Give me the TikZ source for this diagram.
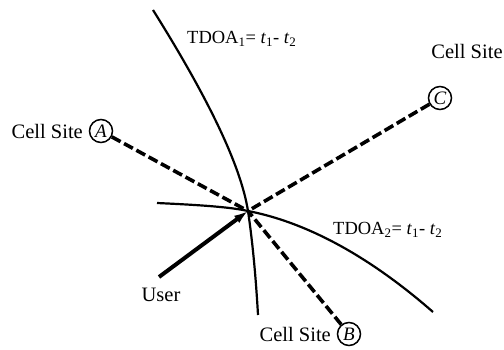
\documentclass[tikz,border=0pt]{standalone}
\usepackage{fontspec}
\setmainfont{Liberation Serif}
\usetikzlibrary{arrows.meta}
\begin{document}
\begin{tikzpicture}[x=1pt,y=-1pt,
  lbl/.style={inner sep=0pt,font=\fontsize{20.5}{23}\selectfont},
  eq/.style={inner sep=0pt,font=\fontsize{18.5}{21}\selectfont},
  site/.style={circle,draw,line width=1.5pt,minimum size=23pt,inner sep=0pt,font=\fontsize{19}{21}\selectfont\itshape},
  hyper/.style={line width=2.2pt},
  sig/.style={line width=3.6pt,dash pattern=on 10pt off 4pt},
  userarrow/.style={line width=4pt,-{Latex[length=14pt,width=9pt]}}]
\useasboundingbox (0,0) rectangle (504,350);
\coordinate (P) at (248,211);
% hyperbolae
\draw[hyper] (153,10) .. controls (200,85) and (240,160) .. (P) .. controls (253,245) and (256,280) .. (258,315);
\draw[hyper] (157,203) .. controls (200,205) and (230,207) .. (P) .. controls (320,225) and (385,270) .. (433,312);
% cell sites
\node[site] (A) at (101,131) {A};
\node[site] (B) at (349,334) {B};
\node[site] (C) at (440,98) {C};
\node[lbl,anchor=east] (la) at (83,131) {Cell Site};
\node[lbl,anchor=east] (lb) at (331,334) {Cell Site};
\node[lbl] (lc) at (467,51) {Cell Site};
% signal paths
\draw[sig] (A) -- (P);
\draw[sig] (C) -- (P);
\draw[sig] (B) -- (P);
% user
\coordinate (U) at (159,277);
\draw[userarrow] (U) -- (P);
\node[lbl] (lu) at (161,295) {User};
% labels
\node[eq,anchor=base west] (t1) at (187,44) {TDOA\textsubscript{1}= \textit{t}\textsubscript{1}- \textit{t}\textsubscript{2}};
\node[eq,anchor=base west] (t2) at (333,235) {TDOA\textsubscript{2}= \textit{t}\textsubscript{1}- \textit{t}\textsubscript{2}};
\end{tikzpicture}
\end{document}
